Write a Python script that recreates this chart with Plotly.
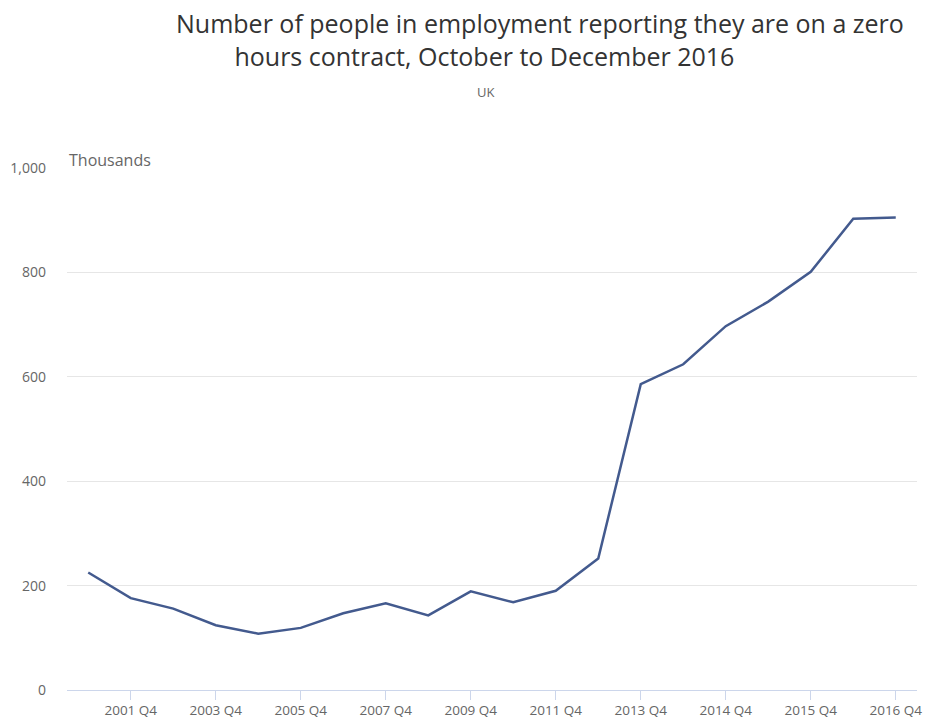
import plotly.graph_objects as go

categories = ["2000 Q4", "2001 Q4", "2002 Q4", "2003 Q4", "2004 Q2", "2005 Q2",
              "2006 Q4", "2007 Q4", "2008 Q4", "2009 Q4", "2010 Q4", "2011 Q4",
              "2012 Q4", "2013 Q4", "2014 Q2", "2014 Q4", "2015 Q2", "2015 Q4",
              "2016 Q2", "2016 Q4"]
values = [225, 176, 156, 124, 108, 119, 147, 166, 143, 189, 168, 190,
          252, 586, 624, 697, 744, 801, 903, 905]
tick_labels = ["2001 Q4", "2003 Q4", "2005 Q4", "2007 Q4", "2009 Q4",
               "2011 Q4", "2013 Q4", "2014 Q4", "2015 Q4", "2016 Q4"]
tick_cats = ["2001 Q4", "2003 Q4", "2005 Q2", "2007 Q4", "2009 Q4",
             "2011 Q4", "2013 Q4", "2014 Q4", "2015 Q4", "2016 Q4"]
y_ticks = [0, 200, 400, 600, 800, 1000]

FONT = "Open Sans"
NB = "\u00a0"

title_text = ("Number of people in employment reporting they are on a zero<br>"
              + NB * 9 + "hours contract, October to December 2016")

fig = go.Figure()
fig.add_trace(go.Scatter(
    x=categories, y=values, mode="lines",
    line=dict(color="#435a8e", width=2.5),
    hoverinfo="x+y", showlegend=False,
))

fig.update_layout(
    width=927, height=722,
    margin=dict(l=67, r=10, t=168, b=32),
    paper_bgcolor="white", plot_bgcolor="white",
    font=dict(family=FONT, color="#666666", size=12),
    xaxis=dict(
        type="category", range=[-0.5, 19.5], automargin=False,
        tickmode="array", tickvals=tick_cats, ticktext=tick_labels,
        ticks="outside", ticklen=9, tickcolor="#ccd6eb", tickwidth=1,
        ticklabelstandoff=-1,
        showline=True, linecolor="#ccd6eb", linewidth=1,
        showgrid=False, zeroline=False,
        tickfont=dict(family=FONT, size=13.5, color="#666666"),
    ),
    yaxis=dict(
        range=[0, 1000], tickmode="array", tickvals=y_ticks, automargin=False,
        tickformat=",", showgrid=True, gridcolor="#e6e6e6", gridwidth=1,
        zeroline=False, showline=False, ticks="",
        ticklabelstandoff=20,
        tickfont=dict(family=FONT, size=14, color="#666666"),
    ),
    annotations=[
        dict(text=title_text, align="left",
             xref="paper", yref="paper", x=(174 - 67) / 850, y=1,
             yshift=168 - 39, xanchor="left", yanchor="middle",
             showarrow=False, font=dict(family=FONT, size=25, color="#333333")),
        dict(text="UK", xref="paper", yref="paper", x=(485 - 67) / 850, y=1,
             yshift=168 - 92, xanchor="center", yanchor="middle",
             showarrow=False, font=dict(family=FONT, size=13, color="#666666")),
        dict(text="Thousands", xref="paper", yref="paper", x=0, y=1,
             yshift=168 - 160, xanchor="left", yanchor="middle",
             showarrow=False, font=dict(family=FONT, size=16, color="#666666")),
    ],
)

fig.write_html("out.html")
